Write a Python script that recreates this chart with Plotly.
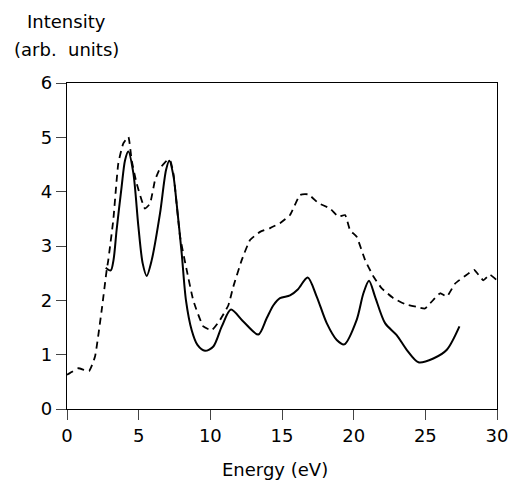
import plotly.graph_objects as go

# Solid curve
solid_x = [2.7, 3.05, 3.25, 3.46, 3.81, 4.05, 4.28, 4.63, 4.98, 5.28, 5.56, 5.91, 6.49, 6.91, 7.14,
           7.42, 7.65, 8.0, 8.3, 8.7, 9.1, 9.63, 10.21, 10.8, 11.44, 12.3, 13.35, 13.93, 14.4,
           14.86, 15.56, 16.1, 16.79, 17.42, 18.12, 18.82, 19.35, 20.21, 20.68, 21.07, 21.49,
           22.19, 23.0, 23.7, 24.52, 25.56, 26.5, 27.38]
solid_y = [2.6, 2.55, 2.75, 3.29, 4.09, 4.58, 4.74, 4.34, 3.36, 2.68, 2.45, 2.74, 3.6, 4.4, 4.57,
           4.3, 3.78, 2.87, 2.0, 1.45, 1.18, 1.07, 1.15, 1.52, 1.83, 1.61, 1.37, 1.67, 1.91,
           2.04, 2.09, 2.2, 2.42, 2.07, 1.58, 1.27, 1.19, 1.64, 2.13, 2.36, 2.07,
           1.58, 1.36, 1.09, 0.86, 0.93, 1.09, 1.52]

# Dashed curve
dash_x = [0.0, 0.2, 0.79, 1.54, 1.95, 2.42, 2.77, 2.88, 3.23, 3.58, 3.93, 4.28, 4.51, 4.86, 5.44,
          5.79, 6.14, 6.49, 6.96, 7.19, 7.42, 7.89, 8.35, 8.81, 9.51, 10.1, 10.68, 11.26, 11.6,
          12.19, 12.77, 13.47, 14.17, 14.86, 15.56, 16.26, 16.84, 17.54, 18.35, 18.93, 19.4,
          19.75, 20.21, 20.8, 21.38, 21.96, 22.77, 23.59, 24.4, 24.98, 25.56, 26.03, 26.5, 27.08,
          27.89, 28.4, 29.05, 29.5, 29.98]
dash_y = [0.63, 0.66, 0.75, 0.7, 0.96, 1.82, 2.56, 2.74, 3.48, 4.52, 4.89, 5.01, 4.58, 4.15, 3.69,
          3.78, 4.21, 4.43, 4.57, 4.58, 4.34, 3.17, 2.56, 2.0, 1.52, 1.45, 1.64, 1.91, 2.25,
          2.74, 3.11, 3.26, 3.33, 3.42, 3.57, 3.94, 3.95, 3.79, 3.69, 3.54, 3.57,
          3.29, 3.17, 2.74, 2.44, 2.22, 2.04, 1.93, 1.88, 1.85, 2.01, 2.13, 2.07, 2.31,
          2.47, 2.56, 2.37, 2.47, 2.37]

x_ticks = [0, 5, 10, 15, 20, 25, 30]
y_ticks = [0, 1, 2, 3, 4, 5, 6]

FONT = "DejaVu Sans, Liberation Sans, Arial"
L, R, T, B = 67, 16, 83, 75
W, H = 513, 484
pw, ph = W - L - R, H - T - B

fig = go.Figure()
fig.add_trace(go.Scatter(x=dash_x, y=dash_y, mode="lines",
                         line=dict(color="black", width=1.8, dash="7px,5px", shape="spline", smoothing=0.4),
                         showlegend=False))
fig.add_trace(go.Scatter(x=solid_x, y=solid_y, mode="lines",
                         line=dict(color="black", width=2, shape="spline", smoothing=0.8),
                         showlegend=False))

def ann(text, px, py):
    return dict(text=text, x=(px - L) / pw, y=(H - B - py) / ph, xref="paper", yref="paper",
                xanchor="center", yanchor="middle", showarrow=False, font=dict(size=18))

fig.update_layout(
    width=W, height=H,
    margin=dict(l=L, r=R, t=T, b=B),
    paper_bgcolor="white", plot_bgcolor="white",
    font=dict(family=FONT, size=18, color="black"),
    xaxis=dict(range=[0, 30], tickvals=x_ticks, ticks="outside", ticklen=10, tickwidth=1.2,
               showline=True, linecolor="black", linewidth=1.2, mirror=True, automargin=False,
               showgrid=False, zeroline=False, tickfont=dict(size=18)),
    yaxis=dict(range=[0, 6], tickvals=y_ticks, ticks="outside", ticklen=10, tickwidth=1.2,
               showline=True, linecolor="black", linewidth=1.2, mirror=True, automargin=False,
               showgrid=False, zeroline=False, tickfont=dict(size=18)),
    annotations=[ann("Intensity", 66, 22), ann("(arb.  units)", 66, 50),
                 ann("Energy (eV)", 275, 469)],
)
fig.write_html("out.html", config={"displayModeBar": False},
               post_script="document.body.style.margin='0';")
